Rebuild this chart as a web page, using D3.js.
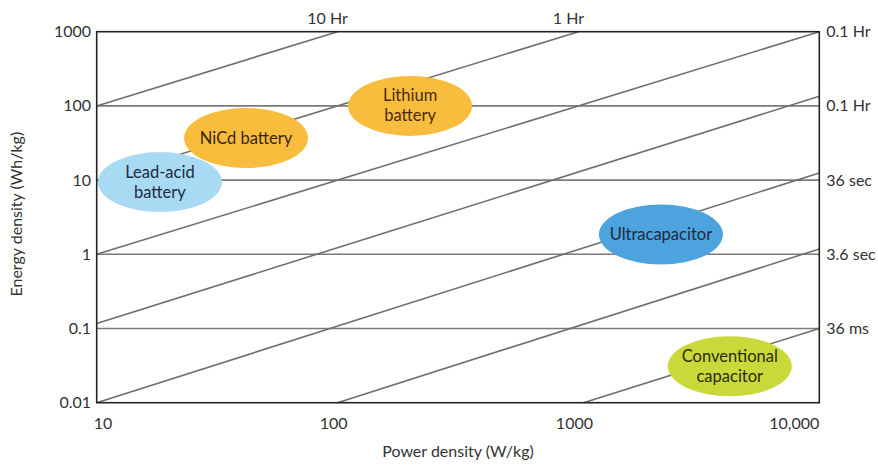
<!DOCTYPE html>
<html>
<head>
<meta charset="utf-8">
<script src="https://cdn.jsdelivr.net/npm/d3@7"></script>
<style>
  body { margin: 0; background: #fff; }
  text { font-family: Lato, "DejaVu Sans", sans-serif; fill: #333; }
</style>
</head>
<body>
<svg id="chart" width="878" height="466"></svg>
<script>
// data
const yTicks = [0.01, 0.1, 1, 10, 100, 1000];
const yTickLabels = ['0.01', '0.1', '1', '10', '100', '1000'];
const xTicks = [10, 100, 1000, 10000];
const xTickLabels = ['10', '100', '1000', '10,000'];

// constant-time lines: [power, energy] at each end
const timeLines = [
  [[10, 100], [100, 1000]],
  [[10, 10], [1000, 1000]],
  [[10, 1], [10000, 1000]],
  [[10, 0.117], [10000, 135]],
  [[10, 0.01], [10000, 12.5]],
  [[100, 0.01], [10000, 1.18]],
  [[1050, 0.01], [10000, 0.1]]
];
const topLabels = ['10 Hr', '1 Hr'];
const topLabelPower = [100, 1000];
const rightLabels = ['0.1 Hr', '0.1 Hr', '36 sec', '3.6 sec', '36 ms'];
const rightLabelEnergy = [1000, 100, 10, 1, 0.1];

const blobNames = [['Lead-acid', 'battery'], ['NiCd battery'], ['Lithium', 'battery'], ['Ultracapacitor'], ['Conventional', 'capacitor']];
const blobPower = [18.3, 41.7, 200, 2200, 4250];
const blobEnergy = [9.4, 36.9, 100, 1.85, 0.031];
const blobFill = ['#a9daf3', '#f8bd3c', '#f8bd3c', '#4da3dd', '#cad93a'];
const blobInk = ['#1e2a40', '#3a2510', '#4a2a10', '#1e2a40', '#2a2a10'];

const svg = d3.select('#chart');
const L = 96.7, R = 819.3, T = 31.7, B = 402.7;
const x = d3.scaleLog().domain([10, 10000]).range([L, R]);
const y = d3.scaleLog().domain([0.01, 1000]).range([B, T]);
const FS = '16px';

// horizontal gridlines
svg.append('g').selectAll('line').data(yTicks.slice(1, -1)).join('line')
  .attr('x1', L).attr('x2', R).attr('y1', d => y(d)).attr('y2', d => y(d))
  .attr('stroke', '#7a7a7a').attr('stroke-width', 1.6);

// diagonal time lines
svg.append('g').selectAll('line').data(timeLines).join('line')
  .attr('x1', d => x(d[0][0])).attr('y1', d => y(d[0][1]))
  .attr('x2', d => x(d[1][0])).attr('y2', d => y(d[1][1]))
  .attr('stroke', '#6e6e6e').attr('stroke-width', 1.6);

// frame
svg.append('rect').attr('x', L).attr('y', T).attr('width', R - L).attr('height', B - T)
  .attr('fill', 'none').attr('stroke', '#222').attr('stroke-width', 1.6);

// technology ellipses
const blobs = svg.append('g').selectAll('g').data(blobNames).join('g')
  .attr('transform', (d, i) => `translate(${x(blobPower[i])},${y(blobEnergy[i])})`);
blobs.append('ellipse').attr('rx', 62).attr('ry', 30).attr('fill', (d, i) => blobFill[i]);
blobs.each(function (d, i) {
  const t = d3.select(this).append('text').attr('text-anchor', 'middle')
    .style('font-size', '16.5px').style('fill', blobInk[i]);
  d.forEach((line, k) => {
    t.append('tspan').attr('x', 0)
      .attr('y', (k - (d.length - 1) / 2) * 20 + 5.5).text(line);
  });
});

// axis tick labels
svg.append('g').selectAll('text').data(yTicks).join('text')
  .attr('x', 91).attr('y', d => y(d) + 5.5).attr('text-anchor', 'end')
  .style('font-size', FS).text((d, i) => yTickLabels[i]);
svg.append('g').selectAll('text').data(xTicks).join('text')
  .attr('x', (d, i) => i === 0 ? L - 3 : i === xTicks.length - 1 ? R : x(d) - 4)
  .attr('y', 429)
  .attr('text-anchor', (d, i) => i === 0 ? 'start' : i === xTicks.length - 1 ? 'end' : 'middle')
  .style('font-size', FS).text((d, i) => xTickLabels[i]);

// time labels
svg.append('g').selectAll('text').data(topLabels).join('text')
  .attr('x', (d, i) => x(topLabelPower[i]) - 10).attr('y', 24).attr('text-anchor', 'middle')
  .style('font-size', FS).text(d => d);
svg.append('g').selectAll('text').data(rightLabels).join('text')
  .attr('x', R + 7).attr('y', (d, i) => y(rightLabelEnergy[i]) + 5.5)
  .style('font-size', FS).text(d => d);

// axis titles
svg.append('text').attr('x', (L + R) / 2).attr('y', 457).attr('text-anchor', 'middle')
  .style('font-size', FS).text('Power density (W/kg)');
svg.append('text').attr('transform', `translate(22,${(T + B) / 2 - 3}) rotate(-90)`)
  .attr('text-anchor', 'middle').style('font-size', FS).text('Energy density (Wh/kg)');
</script>
</body>
</html>
